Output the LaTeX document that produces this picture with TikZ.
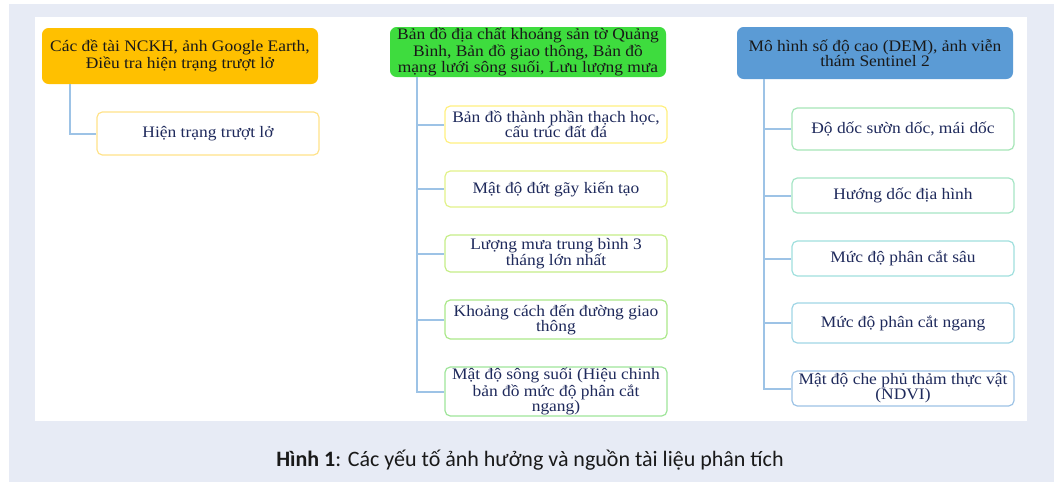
\documentclass[tikz,border=0pt]{standalone}
\usepackage{fontspec}
\setmainfont{Liberation Serif}[FakeStretch=1.09]
\newfontfamily\capfont{Carlito}
\definecolor{panelbg}{HTML}{E7EBF5}
\definecolor{hdorange}{HTML}{FFC000}
\definecolor{hdgreen}{HTML}{3EDC3E}
\definecolor{hdblue}{HTML}{5B9BD5}
\definecolor{conn}{HTML}{9DC3E6}
\definecolor{navy}{HTML}{1F2A5C}
\definecolor{bL}{HTML}{FFE38A}
\definecolor{bMa}{HTML}{FFF080}
\definecolor{bMb}{HTML}{E2F28A}
\definecolor{bMc}{HTML}{C6EE88}
\definecolor{bMd}{HTML}{ABE88A}
\definecolor{bMe}{HTML}{9FE59A}
\definecolor{bRa}{HTML}{A6E6B8}
\definecolor{bRb}{HTML}{A6E6C6}
\definecolor{bRc}{HTML}{A0E0DE}
\definecolor{bRd}{HTML}{A0D6E6}
\definecolor{bRe}{HTML}{9DC3E6}
\tikzset{
  header/.style={rounded corners=5pt, inner xsep=1pt, inner ysep=0pt, align=center, text=black!90,
    font=\fontsize{12}{11.25}\selectfont, minimum width=207pt},
  child/.style={draw=#1, line width=0.9pt, fill=white, rounded corners=4pt, inner xsep=1pt, inner ysep=0pt,
    align=center, text=navy, font=\fontsize{12}{11.25}\selectfont, minimum width=166.5pt},
  link/.style={draw=conn, line width=1.5pt},
}
\begin{document}
\begin{tikzpicture}[x=0.75pt, y=-0.75pt]
\useasboundingbox (0,0) rectangle (1057,482);
\fill[white] (0,0) rectangle (1057,482);
\fill[panelbg] (9,4) rectangle (1054,482);
\fill[white] (35,17) rectangle (1027,421);

% left column
\node[header, fill=hdorange, minimum height=42pt] (L0) at (180,56)
  {Các đề tài NCKH, ảnh Google Earth,\\ Điều tra hiện trạng trượt lở};
\node[child=bL, minimum height=32.25pt] (L1) at (208,133.5) {Hiện trạng trượt lở};
\draw[link] (L0.south west) ++(28,0) |- (L1.west);

% middle column
\node[header, fill=hdgreen, minimum height=37.5pt] (M0) at (528,52)
  {Bản đồ địa chất khoáng sản tờ Quảng\\ Bình, Bản đồ giao thông, Bản đồ\\ mạng lưới sông suối, Lưu lượng mưa};
\node[child=bMa, minimum height=27.75pt] (M1) at (556,124.5) {Bản đồ thành phần thạch học,\\ cấu trúc đất đá};
\node[child=bMb, minimum height=27pt] (M2) at (556,189) {Mật độ đứt gãy kiến tạo};
\node[child=bMc, minimum height=27.75pt] (M3) at (556,253.5) {Lượng mưa trung bình 3\\ tháng lớn nhất};
\node[child=bMd, minimum height=29.25pt] (M4) at (556,319.5) {Khoảng cách đến đường giao\\ thông};
\node[child=bMe, minimum height=36.75pt] (M5) at (556,391.5) {Mật độ sông suối (Hiệu chinh\\ bản đồ mức độ phân cắt\\ ngang)};
\foreach \c in {M1,M2,M3,M4,M5}
  \draw[link] (M0.south west) ++(27,0) |- (\c.west);

% right column
\node[header, fill=hdblue, minimum height=39pt] (R0) at (875,53)
  {Mô hình số độ cao (DEM), ảnh viễn\\ thám Sentinel 2};
\node[child=bRa, minimum height=31.5pt] (R1) at (903,129) {Độ dốc sườn dốc, mái dốc};
\node[child=bRb, minimum height=26.25pt] (R2) at (903,195.5) {Hướng dốc địa hình};
\node[child=bRc, minimum height=26.25pt] (R3) at (903,258.5) {Mức độ phân cắt sâu};
\node[child=bRd, minimum height=30pt] (R4) at (903,323) {Mức độ phân cắt ngang};
\node[child=bRe, minimum height=26.25pt] (R5) at (903,388.5) {Mật độ che phủ thảm thực vật\\ (NDVI)};
\foreach \c in {R1,R2,R3,R4,R5}
  \draw[link] (R0.south west) ++(27,0) |- (\c.west);

% caption
\node[font=\capfont\fontsize{16.5}{18}\selectfont, text=black!90] (cap) at (530,460)
  {\textbf{Hình 1}: Các yếu tố ảnh hưởng và nguồn tài liệu phân tích};
\end{tikzpicture}
\end{document}
